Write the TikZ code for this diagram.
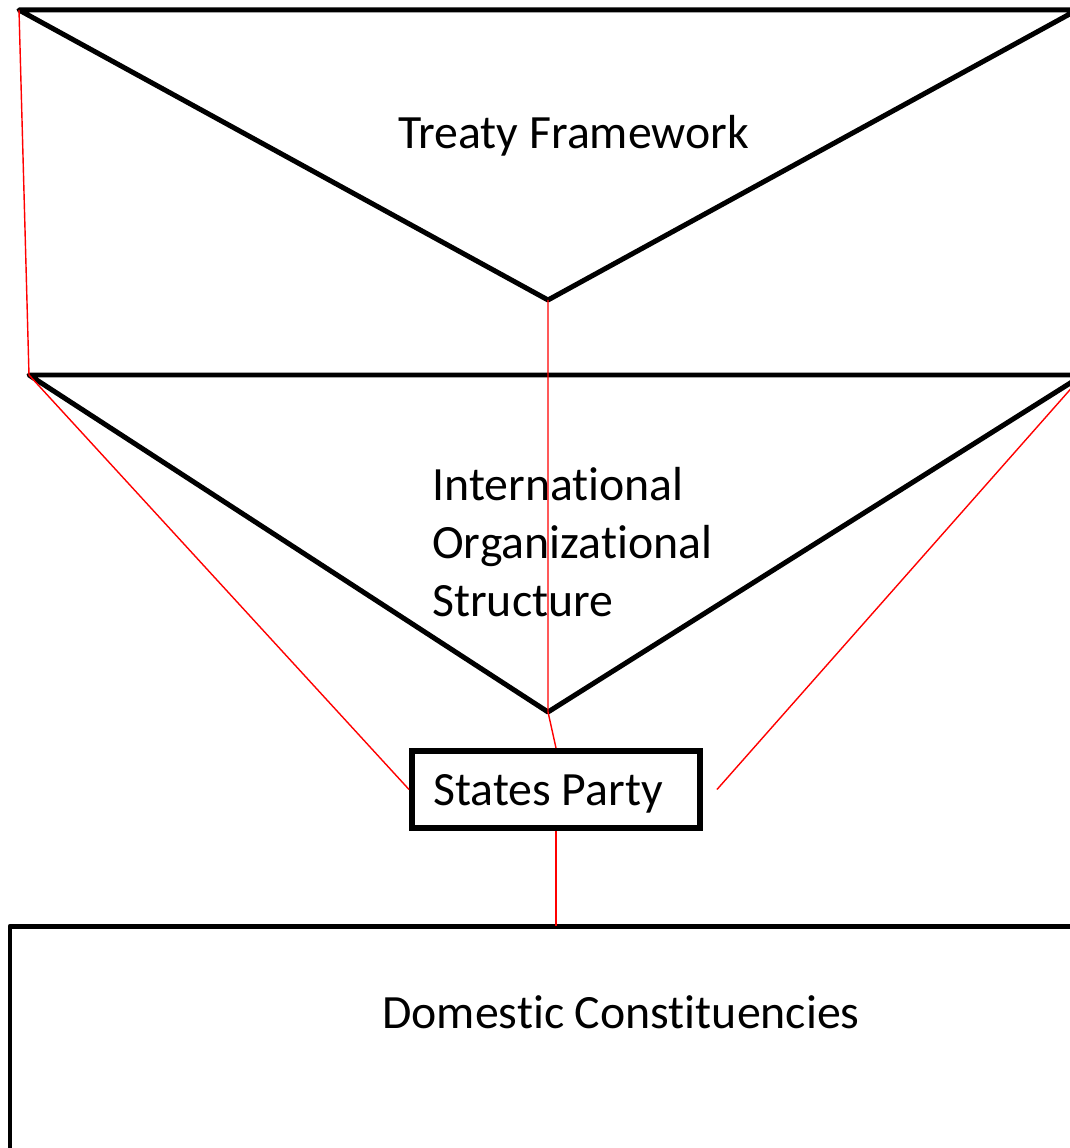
\documentclass[tikz,border=0pt]{standalone}
\usepackage{fontspec}
\setmainfont{Carlito}[Ligatures=NoCommon]
\usetikzlibrary{positioning}

\begin{document}
\begin{tikzpicture}[x=0.02cm, y=-0.02cm, font=\fontsize{27.2}{33}\selectfont,
  frame/.style={line width=0.1cm, line join=round},
  link/.style={draw=red, line width=0.8pt},
  label/.style={anchor=base west, inner sep=0}]
\useasboundingbox (0,0) rectangle (1070,1148);
\clip (0,0) rectangle (1070,1148);
% treaty layer
\coordinate (treatyL) at (19,10);
\coordinate (treatyR) at (1077,10);
\coordinate (treatyTip) at (548,300);
\draw[frame] (treatyR) -- (treatyL) -- (treatyTip) -- (treatyR);
\node[label] (treaty) at (398,149) {Treaty Framework};
% organization layer
\coordinate (orgL) at (29,375);
\coordinate (orgR) at (1083,375);
\coordinate (orgTip) at (548,712);
\draw[frame] (orgR) -- (orgL) -- (orgTip) -- (orgR);
\node[label, align=left] (org) at (432,616) {International\\Organizational\\Structure};
% states party
\node[draw, line width=0.12cm, minimum width=5.76cm, minimum height=1.54cm] (party) at (556,789.5) {};
\node[label] (partyText) at (433,805) {States Party};
\coordinate (partyR) at ([xshift=0.28cm]party.east);
% domestic layer
\coordinate (domTop) at (556,926);
\draw[frame] (1100,926) -- (10,926) -- (10,1170);
\node[label] (dom) at (382,1028) {Domestic Constituencies};
% red links
\draw[link] (treatyL) -- (orgL);
\draw[link] (treatyTip) -- (orgTip) -- (party.north);
\draw[link] (orgL) -- (party.west);
\draw[link] (orgR) -- (partyR);
\draw[link] (party.south) -- (domTop);
\end{tikzpicture}
\end{document}
